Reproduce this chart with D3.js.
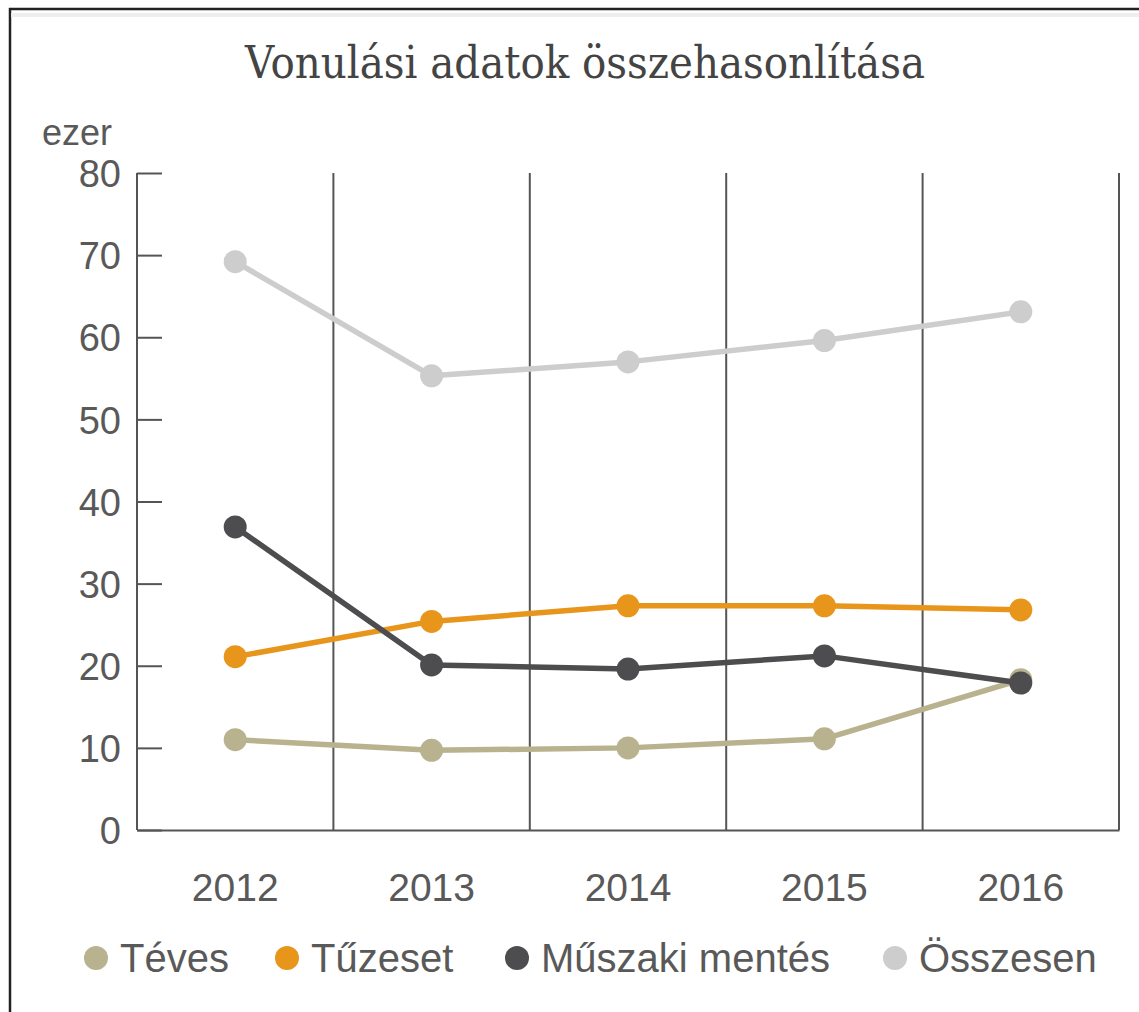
<!DOCTYPE html>
<html>
<head>
<meta charset="utf-8">
<script src="https://cdn.jsdelivr.net/npm/d3@7"></script>
<style>
  body { margin: 0; background: #fff; }
  svg { display: block; }
</style>
</head>
<body>
<svg id="chart"></svg>
<script>
const width = 1139;
const height = 1012;

const years = ["2012", "2013", "2014", "2015", "2016"];
const yTicks = [0, 10, 20, 30, 40, 50, 60, 70, 80];

const teves = [11.0, 9.7, 10.0, 11.1, 18.3];
const tuzeset = [21.1, 25.4, 27.3, 27.3, 26.8];
const muszaki = [36.9, 20.1, 19.6, 21.2, 17.9];
const osszesen = [69.2, 55.3, 57.0, 59.6, 63.1];

const seriesNames = ["Téves", "Tűzeset", "Műszaki mentés", "Összesen"];
const seriesColors = ["#b8b28e", "#e8951c", "#4d4d4f", "#cdcdcd"];

const series = [teves, tuzeset, muszaki, osszesen].map((values, i) => ({
    name: seriesNames[i],
    color: seriesColors[i],
    values: values
}));

const margin = { top: 173, left: 137, right: 20, bottom: 182 };
const plotW = 1119 - margin.left;
const plotH = 830 - margin.top;
const sans = "'Liberation Sans', Arial, sans-serif";

const svg = d3.select("#chart")
    .attr("width", width)
    .attr("height", height);

// frame (top and left edges only, like the cropped screenshot)
svg.append("line")
    .attr("x1", 9).attr("x2", width).attr("y1", 9).attr("y2", 9)
    .attr("stroke", "#222").attr("stroke-width", 2.5);
svg.append("line")
    .attr("x1", 10).attr("x2", 10).attr("y1", 8).attr("y2", height)
    .attr("stroke", "#222").attr("stroke-width", 2.5);
svg.append("line")
    .attr("x1", 11).attr("x2", width).attr("y1", 15).attr("y2", 15)
    .attr("stroke", "#eee").attr("stroke-width", 4);

svg.append("text")
    .attr("x", 585)
    .attr("y", 78)
    .attr("text-anchor", "middle")
    .attr("font-family", "'DejaVu Serif', 'Liberation Serif', serif")
    .attr("font-size", 44)
    .attr("textLength", 680)
    .attr("lengthAdjust", "spacingAndGlyphs")
    .attr("fill", "#444")
    .text("Vonulási adatok összehasonlítása");

const g = svg.append("g")
    .attr("transform", `translate(${margin.left},${margin.top})`);

const x = d3.scaleBand()
    .domain(years)
    .range([0, plotW]);

const y = d3.scaleLinear()
    .domain([0, 80])
    .range([plotH, 0]);

// vertical separators between years
g.append("g")
    .selectAll("line")
    .data(years)
    .enter().append("line")
    .attr("class", "grid")
    .attr("x1", d => x(d) + x.bandwidth())
    .attr("x2", d => x(d) + x.bandwidth())
    .attr("y1", 0)
    .attr("y2", plotH)
    .attr("stroke", "#555")
    .attr("stroke-width", 2);

const yAxis = g.append("g")
    .call(d3.axisLeft(y).tickValues(yTicks).tickSize(-25).tickPadding(16));
yAxis.select(".domain").attr("stroke", "#555").attr("stroke-width", 2)
    .attr("d", `M0,0V${plotH}`);
yAxis.selectAll(".tick line").attr("stroke", "#555").attr("stroke-width", 2);
yAxis.selectAll(".tick text")
    .attr("font-family", sans)
    .attr("font-size", 38)
    .attr("fill", "#595959")
    .attr("dy", "0.36em");

const xAxis = g.append("g")
    .attr("transform", `translate(0,${plotH})`)
    .call(d3.axisBottom(x).tickSize(0).tickPadding(43));
xAxis.select(".domain").attr("stroke", "#555").attr("stroke-width", 2);
xAxis.selectAll(".tick text")
    .attr("font-family", sans)
    .attr("font-size", 39)
    .attr("fill", "#595959");

svg.append("text")
    .attr("x", 42)
    .attr("y", 145)
    .attr("font-family", sans)
    .attr("font-size", 36)
    .attr("fill", "#595959")
    .text("ezer");

const line = d3.line()
    .x((d, i) => x(years[i]) + x.bandwidth() / 2)
    .y(d => y(d));

const drawOrder = [3, 0, 1, 2];
drawOrder.forEach(k => {
    const s = series[k];
    const sg = g.append("g");
    sg.append("path")
        .datum(s.values)
        .attr("d", line)
        .attr("fill", "none")
        .attr("stroke", s.color)
        .attr("stroke-width", 5.5)
        .attr("stroke-linejoin", "round");
    sg.selectAll("circle")
        .data(s.values)
        .enter().append("circle")
        .attr("cx", (d, i) => x(years[i]) + x.bandwidth() / 2)
        .attr("cy", d => y(d))
        .attr("r", 11.5)
        .attr("fill", s.color);
});

// legend
const legendX = [96, 287, 517, 895];
const legend = svg.append("g")
    .selectAll("g")
    .data(series)
    .enter().append("g")
    .attr("transform", (d, i) => `translate(${legendX[i]},958)`);
legend.append("circle")
    .attr("r", 12)
    .attr("fill", d => d.color);
legend.append("text")
    .attr("x", 24)
    .attr("dy", "0.36em")
    .attr("font-family", sans)
    .attr("font-size", 40)
    .attr("fill", "#595959")
    .text(d => d.name);
</script>
</body>
</html>
